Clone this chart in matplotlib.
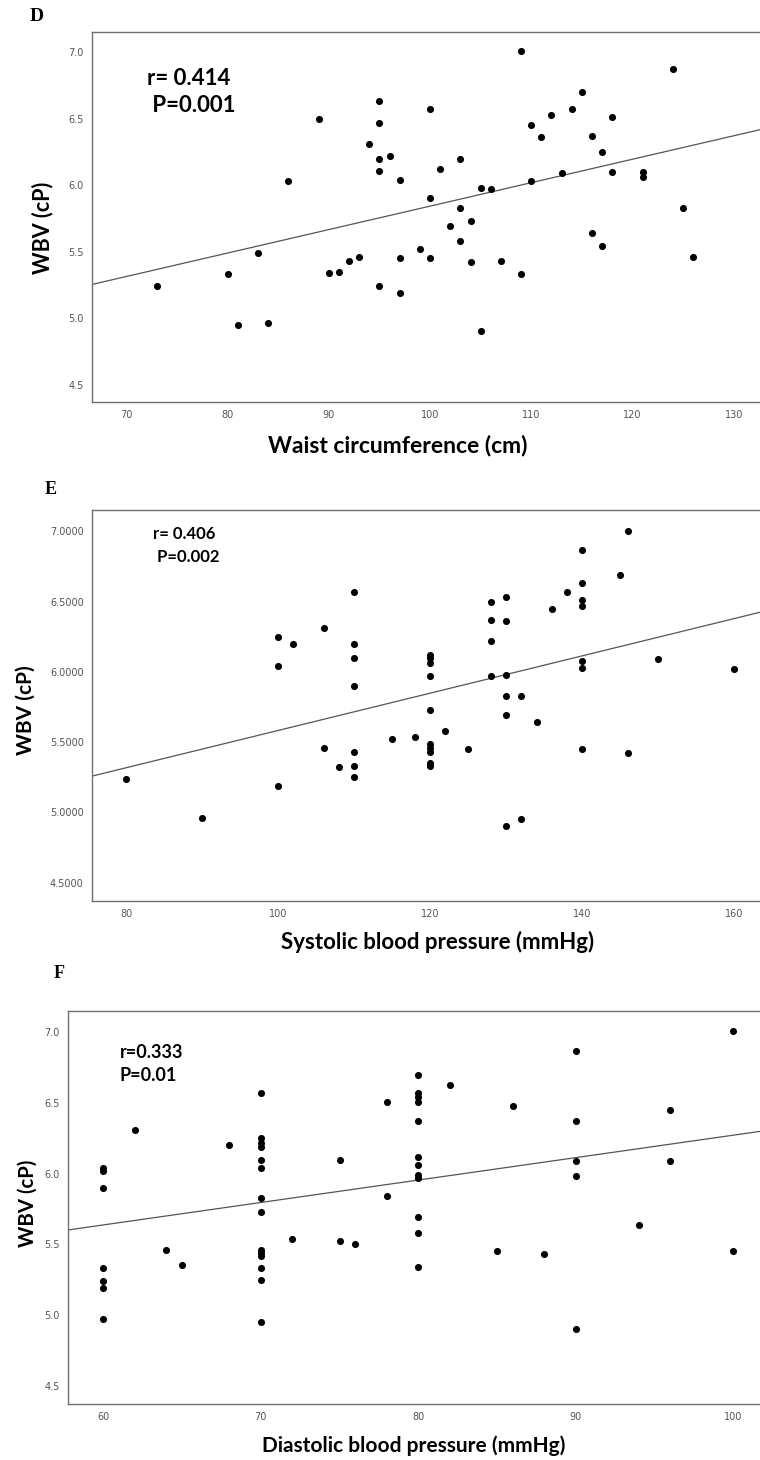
import matplotlib
matplotlib.use("Agg")
import matplotlib.pyplot as plt
import numpy as np

# panel D - waist circumference
waist = [73, 80, 81, 83, 84, 86, 89, 90, 91, 92, 93, 94, 95, 95, 95, 95, 95, 96, 97, 97,
         97, 99, 100, 100, 100, 101, 102, 103, 103, 103, 104, 104, 105, 105, 106, 107, 109, 109, 110, 110,
         111, 112, 113, 114, 115, 116, 116, 117, 117, 118, 118, 121, 121, 124, 125, 126]
wbv_d = [5.24, 5.33, 4.95, 5.49, 4.96, 6.03, 6.50, 5.34, 5.35, 5.43, 5.46, 6.31, 6.63, 6.47, 6.20, 6.11, 5.24, 6.22, 6.04, 5.45,
         5.19, 5.52, 6.57, 5.90, 5.45, 6.12, 5.69, 6.20, 5.83, 5.58, 5.73, 5.42, 5.98, 4.90, 5.97, 5.43, 7.01, 5.33, 6.45, 6.03,
         6.36, 6.53, 6.09, 6.57, 6.70, 6.37, 5.64, 6.25, 5.54, 6.51, 6.10, 6.10, 6.06, 6.87, 5.83, 5.46]

# panel E - systolic BP
sbp = [80, 90, 100, 100, 100, 102, 106, 106, 108, 110, 110, 110, 110, 110, 110, 110,
       115, 118, 120, 120, 120, 120, 120, 120, 120, 120, 120, 120, 122, 125,
       128, 128, 128, 128, 130, 130, 130, 130, 130, 130, 132, 132, 134, 136, 138,
       140, 140, 140, 140, 140, 140, 140, 145, 146, 146, 150, 160]
wbv_e = [5.24, 4.96, 6.25, 6.04, 5.19, 6.20, 6.31, 5.46, 5.32, 6.57, 6.20, 6.10, 5.90, 5.43, 5.33, 5.25,
         5.52, 5.54, 6.12, 6.10, 6.06, 5.97, 5.73, 5.49, 5.46, 5.43, 5.35, 5.33, 5.58, 5.45,
         6.50, 6.37, 6.22, 5.97, 6.53, 6.36, 5.98, 5.83, 5.69, 4.90, 5.83, 4.95, 5.64, 6.45, 6.57,
         6.87, 6.63, 6.51, 6.47, 6.08, 6.03, 5.45, 6.69, 7.00, 5.42, 6.09, 6.02]

# panel F - diastolic BP
dbp = [60, 60, 60, 60, 60, 60, 60, 62, 64, 65, 68,
       70, 70, 70, 70, 70, 70, 70, 70, 70, 70, 70, 70, 70, 70, 72, 75, 75, 76, 78, 78,
       80, 80, 80, 80, 80, 80, 80, 80, 80, 80, 80, 80, 82, 85, 86, 88,
       90, 90, 90, 90, 90, 94, 96, 96, 100, 100]
wbv_f = [6.04, 6.02, 5.90, 5.33, 5.24, 5.19, 4.97, 6.31, 5.46, 5.35, 6.20,
         6.57, 6.25, 6.22, 6.19, 6.10, 6.04, 5.83, 5.73, 5.46, 5.44, 5.42, 5.33, 5.25, 4.95, 5.54, 6.10, 5.52, 5.50, 6.51, 5.84,
         6.70, 6.57, 6.54, 6.51, 6.37, 6.12, 6.06, 5.99, 5.97, 5.69, 5.58, 5.34, 6.63, 5.45, 6.48, 5.43,
         6.87, 6.37, 6.09, 5.98, 4.90, 5.64, 6.45, 6.09, 7.01, 5.45]

panels = [
    dict(x=waist, y=wbv_d, letter="D", xlabel="Waist circumference (cm)",
         stats="r= 0.414\n P=0.001", rect=[0.121, 0.7247, 0.879, 0.2534],
         xlim=(66.6, 132.6), xticks=range(70, 131, 10), yfmt="%.1f",
         xlab_size=16.5, ylab_size=15.5, xlab_pos=(0.457, -0.089), ylab_pos=(-0.058, 0.47),
         stat_size=16, stat_ls=1.35, stat_pos=(0.082, 0.902),
         letter_pos=(0.039, 0.9887), letter_size=14),
    dict(x=sbp, y=wbv_e, letter="E", xlabel="Systolic blood pressure (mmHg)",
         stats="r= 0.406\n P=0.002", rect=[0.121, 0.3829, 0.879, 0.2678],
         xlim=(75.5, 163.4), xticks=range(80, 161, 20), yfmt="%.4f",
         xlab_size=16, ylab_size=15, xlab_pos=(0.518, -0.077), ylab_pos=(-0.085, 0.488),
         stat_size=12, stat_ls=1.5, stat_pos=(0.091, 0.958),
         letter_pos=(0.059, 0.665), letter_size=13),
    dict(x=dbp, y=wbv_f, letter="F", xlabel="Diastolic blood pressure (mmHg)",
         stats="r=0.333\nP=0.01", rect=[0.0895, 0.0384, 0.9105, 0.2692],
         xlim=(57.76, 101.7), xticks=range(60, 101, 10), yfmt="%.1f",
         xlab_size=15, ylab_size=14.7, xlab_pos=(0.499, -0.081), ylab_pos=(-0.044, 0.511),
         stat_size=13, stat_ls=1.45, stat_pos=(0.075, 0.917),
         letter_pos=(0.07, 0.333), letter_size=13),
]

fig = plt.figure(figsize=(7.6, 14.6), dpi=100)

for p in panels:
    ax = fig.add_axes(p["rect"])
    ax.scatter(p["x"], p["y"], s=26, color="black", zorder=3, linewidths=0)

    # least squares fit line across the whole axis
    slope, icpt = np.polyfit(p["x"], p["y"], 1)
    xs = np.array(p["xlim"])
    ax.plot(xs, slope * xs + icpt, color="#555555", lw=0.9, zorder=2)

    ax.set_xlim(p["xlim"])
    ax.set_ylim(4.37, 7.152)
    ax.set_xticks(list(p["xticks"]))
    ax.set_yticks([4.5, 5.0, 5.5, 6.0, 6.5, 7.0])
    ax.set_yticklabels([p["yfmt"] % v for v in [4.5, 5.0, 5.5, 6.0, 6.5, 7.0]])
    ax.tick_params(length=0, labelsize=7, labelcolor="#555555", pad=6)
    for s in ax.spines.values():
        s.set_color("#707070")
        s.set_linewidth(1.0)
    ax.spines["right"].set_visible(False)

    ax.set_xlabel(p["xlabel"], fontsize=p["xlab_size"], fontweight="bold", family="Lato")
    ax.xaxis.set_label_coords(*p["xlab_pos"])
    ax.set_ylabel("WBV (cP)", fontsize=p["ylab_size"], fontweight="bold", family="Lato")
    ax.yaxis.set_label_coords(*p["ylab_pos"])
    ax.text(p["stat_pos"][0], p["stat_pos"][1], p["stats"], transform=ax.transAxes,
            fontsize=p["stat_size"], fontweight="bold", family="Lato",
            va="top", ha="left", linespacing=p["stat_ls"])
    fig.text(p["letter_pos"][0], p["letter_pos"][1], p["letter"], fontsize=p["letter_size"],
             fontweight="bold", family="Liberation Serif", va="center", ha="left")

fig.savefig("out.png", dpi=100)
